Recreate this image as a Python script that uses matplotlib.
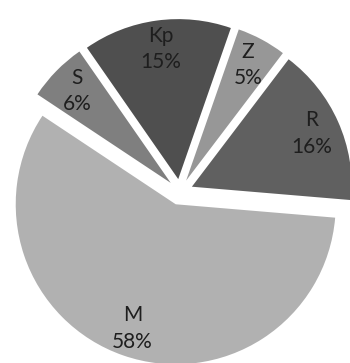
import matplotlib
matplotlib.use("Agg")
import matplotlib.pyplot as plt

# slice data, clockwise from the upper left
labels = ["S", "Kp", "Z", "R", "M"]
shares = [6, 15, 5, 16, 58]
colors = ["#7f7f7f", "#4f4f4f", "#979797", "#606060", "#b1b1b1"]

fig = plt.figure(figsize=(3.5, 3.63), dpi=100)
ax = fig.add_axes([0, 0, 1, 1])

texts = [f"{l}\n{s}%" for l, s in zip(labels, shares)]
# explode is in data units here (pixels), since radius is in pixels
wedges, txts = ax.pie(
    shares,
    labels=texts,
    colors=colors,
    startangle=146.4,
    counterclock=False,
    explode=[13] * len(shares),
    radius=160,
    center=(180, 171),
    labeldistance=0.82,
    frame=True,
    textprops=dict(fontsize=15, family="Lato", color="#1e1e1e",
                   ha="center", va="center", linespacing=1.42),
)
for t in txts:
    t.set_horizontalalignment("center")

ax.set_xlim(0, 350)
ax.set_ylim(0, 363)
ax.set_aspect("equal")
ax.axis("off")

fig.savefig("out.png", dpi=100)
